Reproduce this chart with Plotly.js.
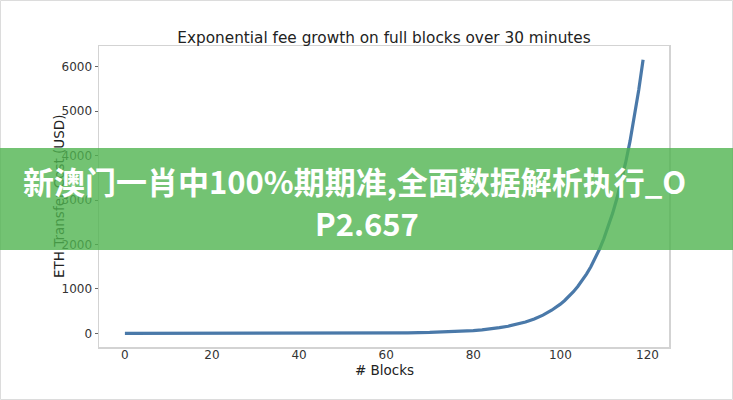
<!DOCTYPE html>
<html>
<head>
<meta charset="utf-8">
<script src="https://cdn.plot.ly/plotly-3.0.1.min.js"></script>
<style>
html,body{margin:0;padding:0;background:#fff;}
#chart{width:733px;height:400px;}
</style>
</head>
<body>
<div id="chart"></div>
<script>
// Data (block number -> ETH transfer cost in USD)
const blocks = [0, 10, 20, 30, 40, 50, 55, 60, 65, 70, 75, 78, 80, 82, 84, 86, 88, 90, 92, 94, 96, 98, 99,
  100, 101, 102, 103, 104, 105, 106, 107, 108, 109, 110, 111, 112, 113, 114, 115, 116, 117, 118, 119];
const costUSD = [0.005, 0.02, 0.05, 0.17, 0.56, 1.8, 3.3, 5.9, 10.6, 19, 35, 50, 62, 79, 100, 127, 160, 203, 256, 324, 410, 519, 584,
  657, 740, 832, 936, 1053, 1185, 1333, 1499, 1686, 1897, 2134, 2401, 2701, 3039, 3418, 3846, 4326, 4867, 5476, 6160];
const xTicks = [0, 20, 40, 60, 80, 100, 120];
const yTicks = [0, 1000, 2000, 3000, 4000, 5000, 6000];

const chartTitle = 'Exponential fee growth on full blocks over 30 minutes';
const xTitle = '# Blocks';
const yTitle = 'ETH Transfer Cost (USD)';
const bannerLine1 = '新澳门一肖中100%期期准,全面数据解析执行_O';
const bannerLine2 = 'P2.657';

const W = 733, H = 400;
const mL = 99, mR = 64, mT = 46, mB = 53;
const pw = W - mL - mR, ph = H - mT - mB;
const px = v => (v - mL) / pw;
const py = v => (H - mB - v) / ph;

const font = 'DejaVu Sans, sans-serif';

const trace = {
  x: blocks, y: costUSD, type: 'scatter', mode: 'lines',
  line: {color: '#4a79a9', width: 3.2},
  hoverinfo: 'skip'
};

const axisCommon = {
  showgrid: false, zeroline: false,
  showline: true, mirror: true, linecolor: '#d3d3d3', linewidth: 1.5,
  tickfont: {family: font, size: 12, color: '#333'},
  fixedrange: true
};

const bannerFont = {family: 'Noto Sans CJK SC, sans-serif', size: 31, color: '#fff', weight: 700};

const layout = {
  width: W, height: H,
  margin: {l: mL, r: mR, t: mT, b: mB, pad: 0},
  paper_bgcolor: '#fff', plot_bgcolor: '#fff',
  showlegend: false,
  title: {text: chartTitle, font: {family: font, size: 15.3, color: '#222'},
    x: px(384), xanchor: 'center', xref: 'paper', y: 1 - 38 / H, yanchor: 'middle'},
  xaxis: Object.assign({}, axisCommon, {
    range: [-5.95, 124.95], tickvals: xTicks, ticktext: xTicks.map(String),
    ticks: '', ticklabelstandoff: -4
  }),
  yaxis: Object.assign({}, axisCommon, {
    range: [-308, 6468], tickvals: yTicks, ticktext: yTicks.map(String),
    ticks: 'outside', ticklen: 3, tickcolor: '#666', tickwidth: 1
  }),
  shapes: [
    {type: 'rect', xref: 'paper', yref: 'paper', x0: px(0.5), x1: px(W - 0.5), y0: py(H - 0.5), y1: py(0.5),
      line: {color: '#dcdcdc', width: 1}, fillcolor: 'rgba(0,0,0,0)', layer: 'above'}
  ],
  annotations: [
    {xref: 'paper', yref: 'paper', x: px(384), y: py(370), xanchor: 'center', yanchor: 'middle',
      text: xTitle, showarrow: false, font: {family: font, size: 13.5, color: '#222'}},
    {xref: 'paper', yref: 'paper', x: px(59), y: py(197), xanchor: 'center', yanchor: 'middle',
      text: yTitle, showarrow: false, textangle: -90, font: {family: font, size: 13.5, color: '#222'}},
    // translucent banner box, drawn above the axis title
    {xref: 'paper', yref: 'paper', x: px(W / 2), y: py(199), xanchor: 'center', yanchor: 'middle',
      text: ' ', showarrow: false, width: W, height: 102, borderpad: 0, borderwidth: 0,
      bgcolor: 'rgba(80,180,80,0.8)', font: {size: 10}},
    {xref: 'paper', yref: 'paper', x: px(354), y: py(180), xanchor: 'center', yanchor: 'middle',
      text: bannerLine1, showarrow: false, font: bannerFont},
    {xref: 'paper', yref: 'paper', x: px(367), y: py(222), xanchor: 'center', yanchor: 'middle',
      text: bannerLine2, showarrow: false, font: bannerFont}
  ]
};

Plotly.newPlot('chart', [trace], layout, {staticPlot: true, displayModeBar: false});
</script>
</body>
</html>
